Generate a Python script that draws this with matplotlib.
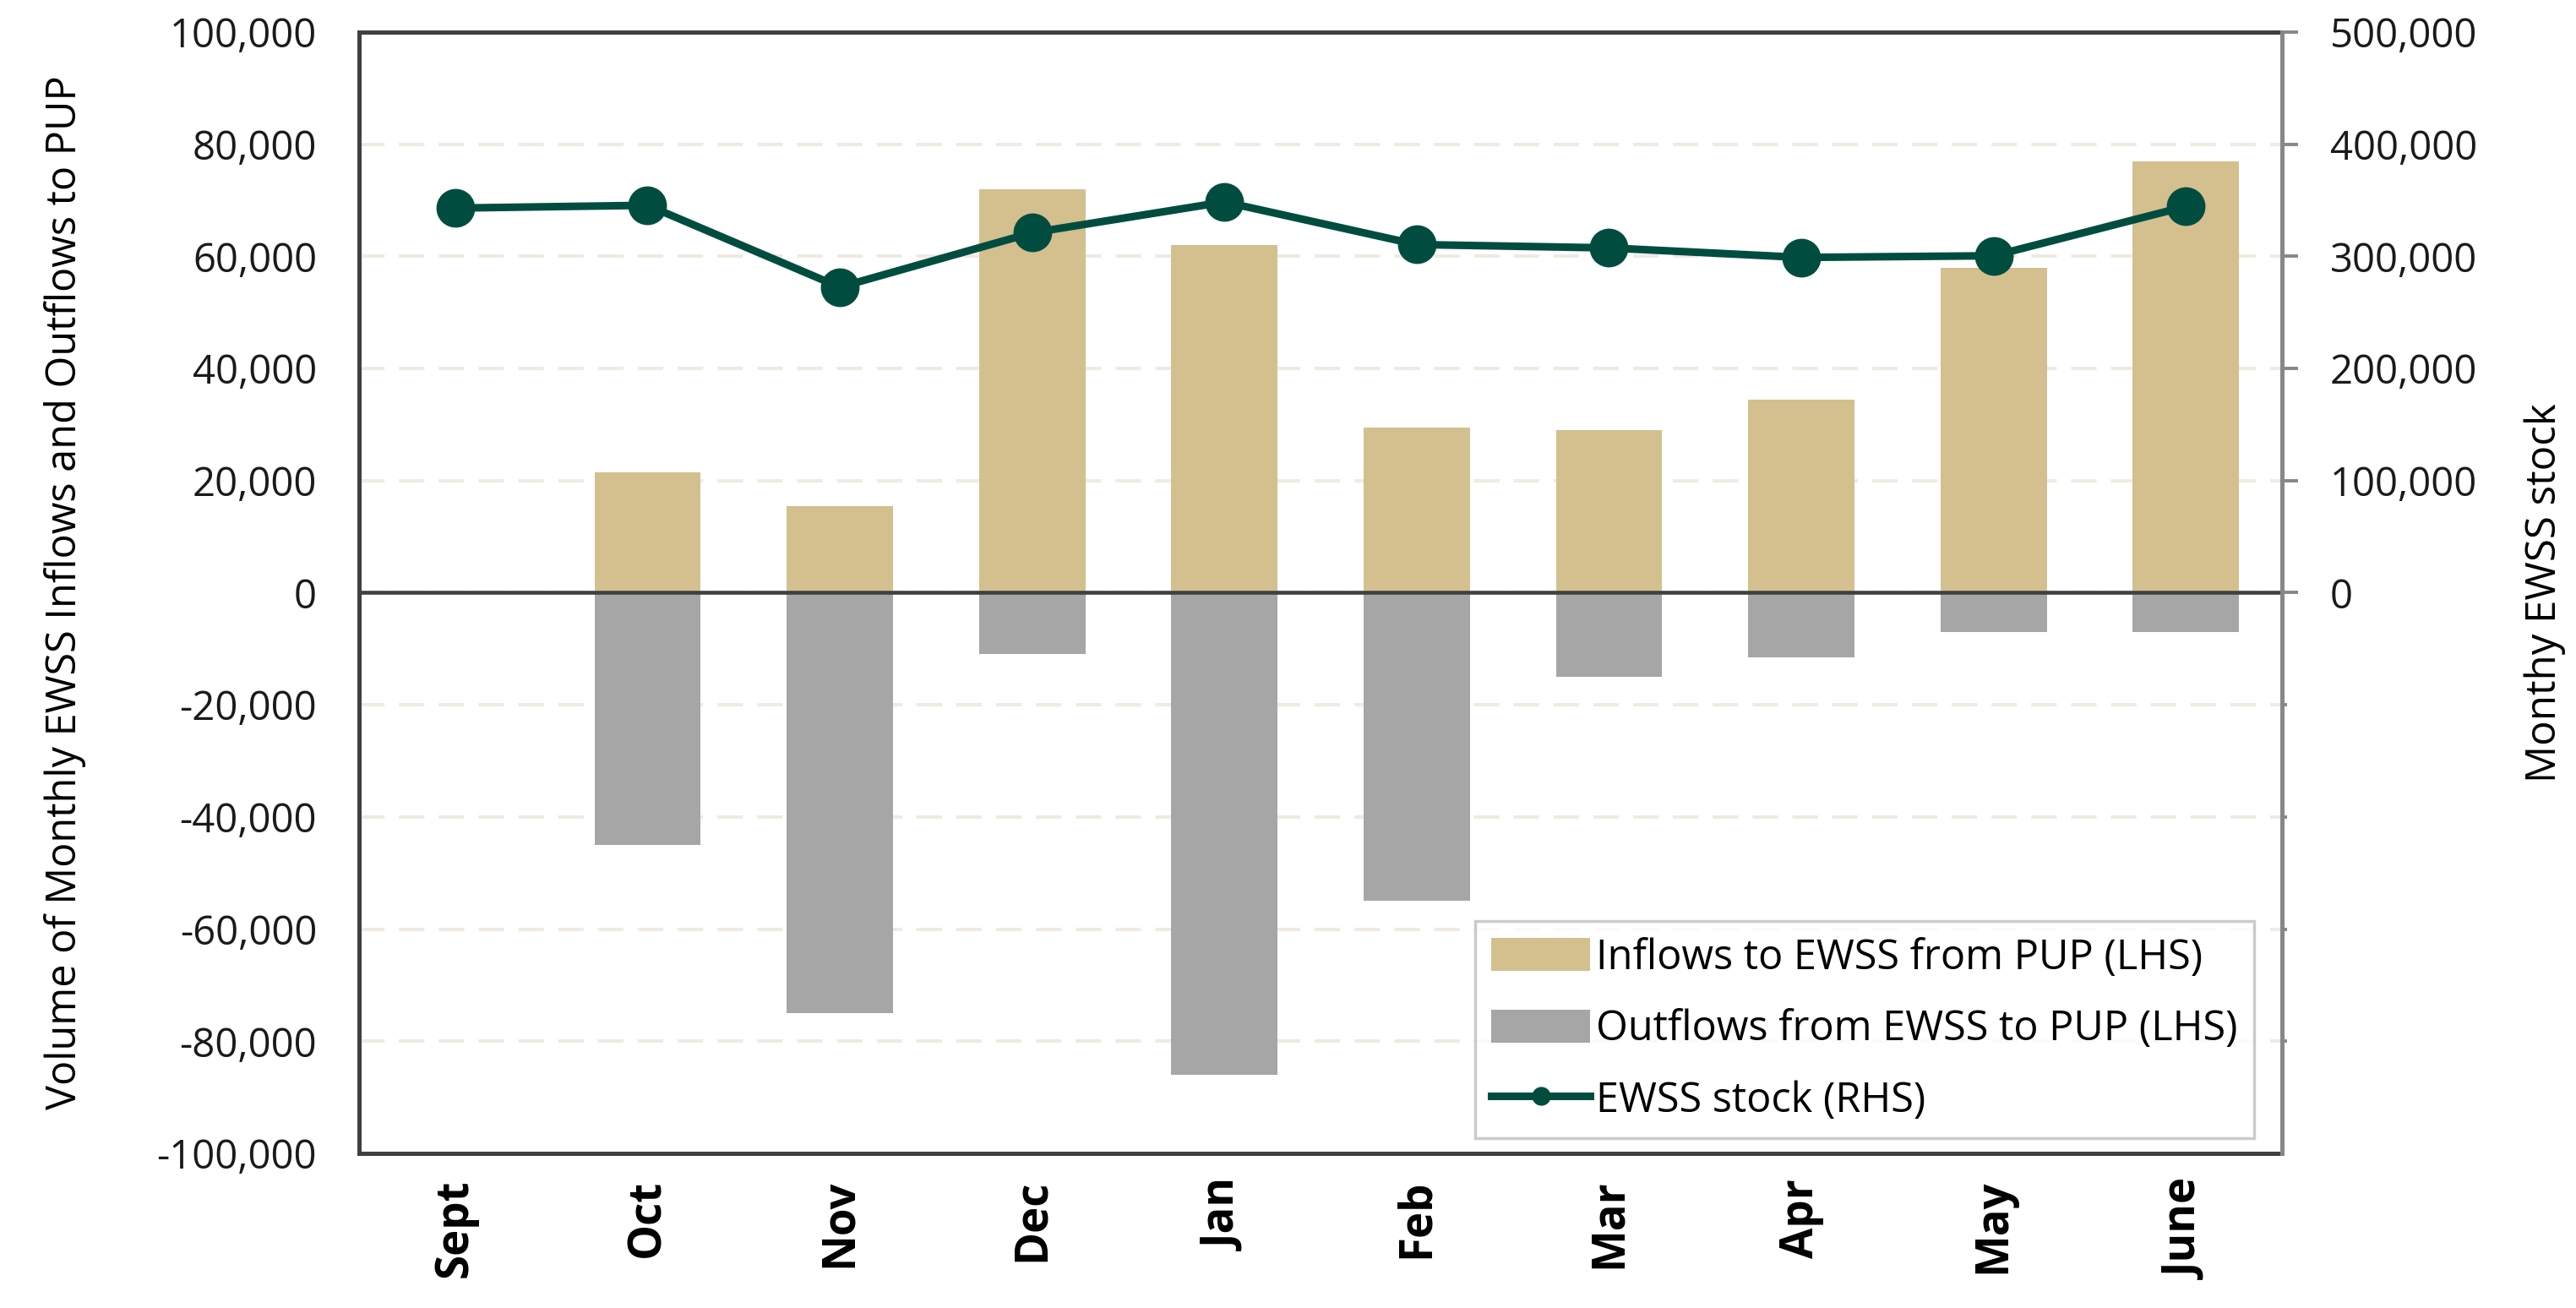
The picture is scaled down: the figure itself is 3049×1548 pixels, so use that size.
import matplotlib
matplotlib.use("Agg")
import matplotlib.pyplot as plt
from matplotlib.ticker import FuncFormatter, FixedLocator
from matplotlib.patches import Patch
from matplotlib.lines import Line2D

months = ["Sept", "Oct", "Nov", "Dec", "Jan", "Feb", "Mar", "Apr", "May", "June"]
inflows = [0, 21500, 15500, 72000, 62000, 29500, 29000, 34500, 58000, 77000]
outflows = [0, -45000, -75000, -11000, -86000, -55000, -15000, -11500, -7000, -7000]
stock = [343000, 345500, 272500, 321000, 348500, 310500, 307500, 299000, 300500, 344500]

left_ticks = list(range(-100000, 100001, 20000))
right_ticks = list(range(0, 500001, 100000))
right_minor = list(range(-400000, 0, 100000))

TAN = "#D4BF8F"
GREY = "#A6A6A6"
GREEN = "#004D40"
SPINE = "#404040"
GRID = "#EFEBE1"

plt.rcParams['font.family'] = ['Open Sans', 'DejaVu Sans']

fig = plt.figure(figsize=(30.49, 15.48), dpi=100)
ax = fig.add_axes([0.1394, 0.1182, 0.8859 - 0.1394, 0.9755 - 0.1182])
ax2 = ax.twinx()

x = list(range(len(months)))
w = 0.553
ax.bar(x, inflows, width=w, color=TAN, zorder=2)
ax.bar(x, outflows, width=w, color=GREY, zorder=2)
ax.axhline(0, color=SPINE, lw=3.3, zorder=3)

ax.set_xlim(-0.5, len(months) - 0.5)
ax.set_ylim(-100000, 100000)
ax.set_yticks(left_ticks)
ax.yaxis.set_major_formatter(FuncFormatter(lambda v, p: f"{int(v):,}"))
ax.tick_params(axis='y', length=0, pad=36, labelsize=34, colors='#1a1a1a')
ax.set_xticks(x)
ax.set_xticklabels(months, rotation=90, fontweight='bold', fontsize=38)
ax.tick_params(axis='x', length=0, pad=22)
ax.grid(axis='y', color=GRID, lw=2.9, linestyle=(0, (7.5, 4.2)), zorder=0)
ax.set_axisbelow(True)
for s in ['left', 'top', 'bottom']:
    ax.spines[s].set_color(SPINE)
    ax.spines[s].set_linewidth(3.6)
ax.spines['right'].set_visible(False)
ax.set_ylabel("Volume of Monthly EWSS Inflows and Outflows to PUP", fontsize=35, labelpad=60)

ax2.plot(x, stock, color=GREEN, lw=6.5, marker='o', markersize=32, zorder=5)
ax2.set_ylim(-500000, 500000)
ax2.yaxis.set_major_locator(FixedLocator(right_ticks))
ax2.yaxis.set_minor_locator(FixedLocator(right_minor))
ax2.yaxis.set_major_formatter(FuncFormatter(lambda v, p: f"{int(v):,}"))
ax2.tick_params(axis='y', which='major', length=13.7, width=2.8, color='#878787', pad=27, labelsize=34, labelcolor='#1a1a1a')
ax2.tick_params(axis='y', which='minor', length=4, width=2.8, color='#878787')
for s in ['left', 'top', 'bottom']:
    ax2.spines[s].set_visible(False)
ax2.spines['right'].set_color('#878787')
ax2.spines['right'].set_linewidth(3.6)
ax2.set_ylabel("Monthy EWSS stock", fontsize=35.5, labelpad=40)

handles = [Patch(facecolor=TAN, edgecolor='none', label="Inflows to EWSS from PUP (LHS)"),
           Patch(facecolor=GREY, edgecolor='none', label="Outflows from EWSS to PUP (LHS)"),
           Line2D([0], [0], color=GREEN, lw=6.5, marker='o', markersize=15, label="EWSS stock (RHS)")]
leg = ax2.legend(handles=handles, loc='lower right', bbox_to_anchor=(0.9855, 0.0136),
                 borderaxespad=0, fontsize=35, frameon=True, fancybox=False,
                 edgecolor='#BFBFBF', handlelength=2.4, handleheight=0.85,
                 handletextpad=0.15, labelspacing=0.72, borderpad=0.4)
leg.get_frame().set_linewidth(2.5)
leg.set_zorder(10)

fig.savefig("out.png", dpi=100, facecolor='white')
